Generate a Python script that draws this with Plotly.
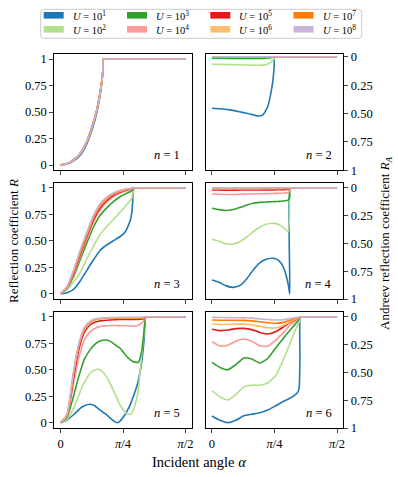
import numpy as np
import plotly.graph_objects as go

W, H = 398, 477
HP = np.pi / 2

u_labels = ["10<sup>1</sup>", "10<sup>2</sup>", "10<sup>3</sup>", "10<sup>4</sup>",
            "10<sup>5</sup>", "10<sup>6</sup>", "10<sup>7</sup>", "10<sup>8</sup>"]
colors = ["#1f78b4", "#b2df8a", "#33a02c", "#fb9a99",
          "#e31a1c", "#fdbf6f", "#ff7f00", "#cab2d6"]

# n = 1 : reflection coefficient R
alpha_n1 = [0, 0.08, 0.16, 0.25, 0.33, 0.40, 0.45, 0.49, 0.515, 0.53, 0.54, 0.57, HP]
n1_u1 = [0, 0.009, 0.038, 0.095, 0.20, 0.345, 0.475, 0.625, 0.75, 0.86, 1, 1, 1]
n1_rest = [0, 0.012, 0.045, 0.11, 0.22, 0.37, 0.50, 0.65, 0.77, 0.87, 1, 1, 1]

# n = 2 : Andreev reflection coefficient R_A
alpha_n2 = [0, 0.1, 0.226, 0.33, 0.435, 0.52, 0.58, 0.64, 0.70, 0.74, 0.765, 0.78, 0.787, 0.82, HP]
n2_u1 = [0.454, 0.458, 0.468, 0.482, 0.498, 0.512, 0.522, 0.512, 0.44, 0.32, 0.21, 0.10, 0.0, 0.0, 0.0]
n2_u2 = [0.066, 0.067, 0.069, 0.071, 0.073, 0.075, 0.075, 0.074, 0.064, 0.048, 0.032, 0.016, 0.0, 0.0, 0.0]
n2_u3 = [0.013, 0.013, 0.014, 0.014, 0.015, 0.015, 0.015, 0.014, 0.011, 0.008, 0.005, 0.002, 0.0, 0.0, 0.0]
n2_u4 = [0.004, 0.004, 0.004, 0.004, 0.004, 0.004, 0.004, 0.004, 0.003, 0.002, 0.001, 0.0, 0.0, 0.0, 0.0]
n2_u5 = [0.002, 0.002, 0.002, 0.002, 0.002, 0.002, 0.002, 0.002, 0.001, 0.001, 0.0, 0.0, 0.0, 0.0, 0.0]
n2_u6 = [0.001, 0.001, 0.001, 0.001, 0.001, 0.001, 0.001, 0.001, 0.0, 0.0, 0.0, 0.0, 0.0, 0.0, 0.0]
n2_u7 = [0.0, 0.0, 0.0, 0.0, 0.0, 0.0, 0.0, 0.0, 0.0, 0.0, 0.0, 0.0, 0.0, 0.0, 0.0]
n2_u8 = [0.0, 0.0, 0.0, 0.0, 0.0, 0.0, 0.0, 0.0, 0.0, 0.0, 0.0, 0.0, 0.0, 0.0, 0.0]

# n = 3 : R
alpha_n3 = [0, 0.08, 0.163, 0.247, 0.331, 0.415, 0.498, 0.58, 0.665, 0.75, 0.81, 0.853, 0.88, 0.90, 0.925, 0.96, HP]
n3_u1 = [0, 0.01, 0.04, 0.12, 0.22, 0.32, 0.41, 0.46, 0.50, 0.54, 0.58, 0.645, 0.70, 0.79, 1.0, 1.0, 1.0]
n3_u2 = [0, 0.035, 0.11, 0.20, 0.33, 0.45, 0.56, 0.635, 0.70, 0.77, 0.82, 0.86, 0.885, 0.91, 1.0, 1.0, 1.0]
n3_u3 = [0, 0.05, 0.16, 0.32, 0.48, 0.63, 0.74, 0.81, 0.87, 0.915, 0.94, 0.955, 0.965, 0.975, 1.0, 1.0, 1.0]
n3_u4 = [0, 0.055, 0.18, 0.35, 0.52, 0.68, 0.79, 0.865, 0.915, 0.95, 0.968, 0.978, 0.984, 0.99, 1.0, 1.0, 1.0]
n3_u5 = [0, 0.058, 0.19, 0.37, 0.54, 0.70, 0.81, 0.88, 0.93, 0.96, 0.975, 0.985, 0.99, 0.993, 1.0, 1.0, 1.0]
n3_u6 = [0, 0.06, 0.205, 0.39, 0.56, 0.72, 0.83, 0.895, 0.94, 0.968, 0.98, 0.988, 0.992, 0.995, 1.0, 1.0, 1.0]
n3_u7 = [0, 0.062, 0.21, 0.40, 0.57, 0.73, 0.84, 0.905, 0.945, 0.972, 0.984, 0.99, 0.994, 0.996, 1.0, 1.0, 1.0]
n3_u8 = [0, 0.063, 0.22, 0.41, 0.58, 0.74, 0.85, 0.913, 0.95, 0.976, 0.987, 0.992, 0.995, 0.997, 1.0, 1.0, 1.0]

# n = 4 : R_A
alpha_n4 = [0, 0.09, 0.18, 0.267, 0.36, 0.44, 0.518, 0.6, 0.68, 0.75, 0.79, 0.84, 0.894, 0.936, 0.96, 0.977, 0.979, 1.01, HP]
n4_u1 = [0.829, 0.85, 0.882, 0.895, 0.875, 0.815, 0.739, 0.675, 0.643, 0.634, 0.635, 0.655, 0.71, 0.80, 0.88, 0.955, 0.0, 0.0, 0.0]
n4_u2 = [0.463, 0.48, 0.503, 0.505, 0.48, 0.44, 0.395, 0.355, 0.328, 0.319, 0.32, 0.33, 0.355, 0.385, 0.395, 0.15, 0.0, 0.0, 0.0]
n4_u3 = [0.184, 0.196, 0.204, 0.195, 0.175, 0.155, 0.139, 0.131, 0.127, 0.125, 0.124, 0.122, 0.118, 0.114, 0.11, 0.07, 0.0, 0.0, 0.0]
n4_u4 = [0.056, 0.058, 0.06, 0.06, 0.058, 0.056, 0.054, 0.053, 0.052, 0.051, 0.05, 0.049, 0.047, 0.045, 0.04, 0.02, 0.0, 0.0, 0.0]
n4_u5 = [0.02, 0.02, 0.021, 0.021, 0.02, 0.02, 0.019, 0.019, 0.018, 0.018, 0.018, 0.017, 0.016, 0.015, 0.013, 0.007, 0.0, 0.0, 0.0]
n4_u6 = [0.008, 0.008, 0.008, 0.008, 0.008, 0.008, 0.007, 0.007, 0.007, 0.007, 0.007, 0.007, 0.006, 0.006, 0.005, 0.003, 0.0, 0.0, 0.0]
n4_u7 = [0.004, 0.004, 0.004, 0.004, 0.004, 0.004, 0.004, 0.004, 0.003, 0.003, 0.003, 0.003, 0.003, 0.003, 0.002, 0.001, 0.0, 0.0, 0.0]
n4_u8 = [0.002, 0.002, 0.002, 0.002, 0.002, 0.002, 0.002, 0.002, 0.002, 0.002, 0.002, 0.001, 0.001, 0.001, 0.001, 0.0, 0.0, 0.0, 0.0]

# n = 5 : R
alpha_n5 = [0, 0.08, 0.163, 0.205, 0.247, 0.30, 0.373, 0.43, 0.477, 0.53, 0.582, 0.623, 0.68, 0.715,
            0.749, 0.80, 0.833, 0.883, 0.916, 0.958, 0.979, 1.021, 1.05, 1.071, 1.10, HP]
n5_u1 = [0, 0.025, 0.075, 0.104, 0.135, 0.16, 0.174, 0.16, 0.13, 0.10, 0.073, 0.045, 0.01, 0.0,
         0.015, 0.065, 0.104, 0.18, 0.25, 0.34, 0.40, 0.576, 0.78, 1.0, 1.0, 1.0]
n5_u2 = [0, 0.03, 0.136, 0.21, 0.294, 0.38, 0.467, 0.497, 0.504, 0.48, 0.43, 0.372, 0.28, 0.22,
         0.167, 0.11, 0.085, 0.079, 0.12, 0.23, 0.32, 0.64, 0.85, 1.0, 1.0, 1.0]
n5_u3 = [0, 0.05, 0.25, 0.37, 0.48, 0.60, 0.69, 0.74, 0.765, 0.778, 0.781, 0.77, 0.74, 0.72,
         0.703, 0.655, 0.625, 0.59, 0.576, 0.57, 0.57, 0.68, 0.86, 1.0, 1.0, 1.0]
n5_u4 = [0, 0.06, 0.37, 0.53, 0.66, 0.78, 0.86, 0.89, 0.905, 0.912, 0.915, 0.917, 0.918, 0.917,
         0.916, 0.915, 0.915, 0.913, 0.912, 0.915, 0.92, 0.94, 0.97, 1.0, 1.0, 1.0]
n5_u5 = [0, 0.065, 0.42, 0.60, 0.74, 0.855, 0.925, 0.948, 0.958, 0.964, 0.968, 0.971, 0.973, 0.974,
         0.975, 0.975, 0.975, 0.975, 0.975, 0.975, 0.976, 0.978, 0.985, 1.0, 1.0, 1.0]
n5_u6 = [0, 0.07, 0.46, 0.64, 0.775, 0.88, 0.945, 0.968, 0.977, 0.981, 0.984, 0.985, 0.986, 0.987,
         0.988, 0.988, 0.988, 0.988, 0.988, 0.988, 0.988, 0.99, 0.993, 1.0, 1.0, 1.0]
n5_u7 = [0, 0.072, 0.47, 0.65, 0.785, 0.89, 0.952, 0.974, 0.982, 0.986, 0.988, 0.989, 0.99, 0.99,
         0.99, 0.99, 0.99, 0.99, 0.99, 0.99, 0.99, 0.992, 0.995, 1.0, 1.0, 1.0]
n5_u8 = [0, 0.075, 0.48, 0.66, 0.795, 0.90, 0.958, 0.978, 0.985, 0.989, 0.991, 0.992, 0.993, 0.994,
         0.995, 0.995, 0.995, 0.995, 0.995, 0.995, 0.995, 0.996, 0.997, 1.0, 1.0, 1.0]

# n = 6 : R_A
alpha_n6 = [0, 0.1, 0.2, 0.3, 0.4, 0.5, 0.6, 0.7, 0.8, 0.9, 0.98, 1.04, 1.08, 1.095, 1.105, 1.11, 1.14, HP]
n6_u1 = [0.892, 0.93, 0.952, 0.93, 0.89, 0.876, 0.862, 0.838, 0.8, 0.76, 0.733, 0.705, 0.675, 0.64, 0.35, 0.0, 0.0, 0.0]
n6_u2 = [0.667, 0.72, 0.748, 0.70, 0.63, 0.615, 0.615, 0.595, 0.53, 0.38, 0.24, 0.13, 0.07, 0.045, 0.025, 0.0, 0.0, 0.0]
n6_u3 = [0.409, 0.455, 0.475, 0.43, 0.37, 0.38, 0.415, 0.375, 0.28, 0.19, 0.12, 0.07, 0.035, 0.02, 0.01, 0.0, 0.0, 0.0]
n6_u4 = [0.224, 0.262, 0.255, 0.22, 0.20, 0.22, 0.26, 0.265, 0.21, 0.14, 0.075, 0.04, 0.02, 0.012, 0.006, 0.0, 0.0, 0.0]
n6_u5 = [0.112, 0.124, 0.118, 0.106, 0.104, 0.115, 0.14, 0.155, 0.135, 0.09, 0.05, 0.028, 0.014, 0.008, 0.004, 0.0, 0.0, 0.0]
n6_u6 = [0.065, 0.068, 0.068, 0.066, 0.066, 0.072, 0.085, 0.098, 0.10, 0.075, 0.045, 0.025, 0.012, 0.007, 0.003, 0.0, 0.0, 0.0]
n6_u7 = [0.029, 0.031, 0.031, 0.031, 0.032, 0.036, 0.044, 0.052, 0.058, 0.05, 0.03, 0.016, 0.008, 0.004, 0.002, 0.0, 0.0, 0.0]
n6_u8 = [0.005, 0.006, 0.007, 0.008, 0.009, 0.012, 0.018, 0.024, 0.029, 0.026, 0.016, 0.009, 0.004, 0.002, 0.001, 0.0, 0.0, 0.0]

panels = [
    (1, alpha_n1, [n1_u1] + [n1_rest] * 7),
    (2, alpha_n2, [n2_u1, n2_u2, n2_u3, n2_u4, n2_u5, n2_u6, n2_u7, n2_u8]),
    (3, alpha_n3, [n3_u1, n3_u2, n3_u3, n3_u4, n3_u5, n3_u6, n3_u7, n3_u8]),
    (4, alpha_n4, [n4_u1, n4_u2, n4_u3, n4_u4, n4_u5, n4_u6, n4_u7, n4_u8]),
    (5, alpha_n5, [n5_u1, n5_u2, n5_u3, n5_u4, n5_u5, n5_u6, n5_u7, n5_u8]),
    (6, alpha_n6, [n6_u1, n6_u2, n6_u3, n6_u4, n6_u5, n6_u6, n6_u7, n6_u8]),
]

# panel positions in pixels
col_x = [(54.3, 191.7), (205.7, 343.3)]
row_y = [(53.8, 170.3), (182.5, 299.0), (311.5, 428.0)]
ra_top = [-0.026, -0.048, -0.048]

FONT = "Liberation Serif"

def px(x):
    return x / W

def py(y):
    return 1 - y / H

fig = go.Figure()
layout = {}
for n, alpha, curves in panels:
    r, c = (n - 1) // 2, (n - 1) % 2
    sx = "" if n == 1 else str(n)
    for k, vals in enumerate(curves):
        fig.add_trace(go.Scatter(
            x=alpha, y=vals, mode="lines", xaxis="x" + sx, yaxis="y" + sx,
            line=dict(color=colors[k], width=1.6, shape="spline", smoothing=0.5),
            showlegend=False, hoverinfo="skip"))
    layout["xaxis" + sx] = dict(
        domain=[px(col_x[c][0]), px(col_x[c][1])], anchor="y" + sx, automargin=False,
        range=[-0.0785, 1.6493], tickvals=[0, np.pi / 4, np.pi / 2],
        ticktext=["0", "<i>π</i>/4", "<i>π</i>/2"], showticklabels=(r == 2),
        ticks="outside", ticklen=4, tickwidth=1, showline=True, mirror=True,
        linecolor="black", linewidth=1, showgrid=False, zeroline=False,
        tickfont=dict(size=12.5))
    ydom = [py(row_y[r][1]), py(row_y[r][0])]
    if c == 0:
        layout["yaxis" + sx] = dict(
            domain=ydom, anchor="x" + sx, range=[-0.05, 1.05], automargin=False,
            tickvals=[0, 0.25, 0.5, 0.75, 1], ticktext=["0", "0.25", "0.50", "0.75", "1"],
            ticks="outside", ticklen=4, tickwidth=1, showline=True, mirror=True,
            linecolor="black", linewidth=1, showgrid=False, zeroline=False,
            tickfont=dict(size=12.5))
    else:
        layout["yaxis" + sx] = dict(
            domain=ydom, anchor="x" + sx, side="right", range=[1, ra_top[r]], automargin=False,
            tickvals=[0, 0.25, 0.5, 0.75, 1], ticktext=["0", "0.25", "0.50", "0.75", "1"],
            ticks="outside", ticklen=4, tickwidth=1, showline=True, mirror=True,
            linecolor="black", linewidth=1, showgrid=False, zeroline=False,
            tickfont=dict(size=12.5))
    fig.add_annotation(text="<i>n</i> = %d" % n, xref="x%s domain" % sx, yref="y%s domain" % sx,
                       x=0.93, y=0.05, xanchor="right", yanchor="bottom", showarrow=False,
                       font=dict(size=12.5, family=FONT, color="black"))

fig.update_layout(**layout)

# axis titles
fig.add_annotation(text="Reflection coefficient <i>R</i>", x=px(13), y=py(241), xref="paper", yref="paper",
                   xanchor="center", yanchor="middle", textangle=-90, showarrow=False,
                   font=dict(size=13, family=FONT, color="black"))
fig.add_annotation(text="Andreev reflection coefficient <i>R</i><sub><i>A</i></sub>", x=px(385), y=py(243),
                   xref="paper", yref="paper", xanchor="center", yanchor="middle", textangle=-90,
                   showarrow=False, font=dict(size=13, family=FONT, color="black"))
fig.add_annotation(text="Incident angle <i>α</i>", x=px(198.8), y=py(461.5), xref="paper", yref="paper",
                   xanchor="center", yanchor="middle", showarrow=False,
                   font=dict(size=14.5, family=FONT, color="black"))

# legend box (rounded corners)
bx0, bx1, by0, by1, rr = 40.7, 361.7, 9.3, 38.3, 3
box_path = (f"M {px(bx0 + rr)},{py(by0)} L {px(bx1 - rr)},{py(by0)} Q {px(bx1)},{py(by0)} {px(bx1)},{py(by0 + rr)} "
            f"L {px(bx1)},{py(by1 - rr)} Q {px(bx1)},{py(by1)} {px(bx1 - rr)},{py(by1)} "
            f"L {px(bx0 + rr)},{py(by1)} Q {px(bx0)},{py(by1)} {px(bx0)},{py(by1 - rr)} "
            f"L {px(bx0)},{py(by0 + rr)} Q {px(bx0)},{py(by0)} {px(bx0 + rr)},{py(by0)} Z")
shapes = [dict(type="path", path=box_path, xref="paper", yref="paper",
               line=dict(color="#cccccc", width=1), fillcolor="white")]
leg_cols = [43.7, 127.0, 210.3, 293.5]
leg_rows = [15.3, 29.3]
for k in range(8):
    cx = leg_cols[k // 2]
    cy = leg_rows[k % 2]
    shapes.append(dict(type="rect", xref="paper", yref="paper", x0=px(cx), x1=px(cx + 20),
                       y0=py(cy + 3.3), y1=py(cy - 3.3), line=dict(width=0), fillcolor=colors[k]))
    fig.add_annotation(text="<i>U</i> = " + u_labels[k], x=px(cx + 27), y=py(cy), xref="paper", yref="paper",
                       xanchor="left", yanchor="middle", showarrow=False,
                       font=dict(size=10.5, family=FONT, color="black"))

fig.update_layout(width=W, height=H, margin=dict(l=0, r=0, t=0, b=0, autoexpand=False), shapes=shapes,
                  paper_bgcolor="white", plot_bgcolor="white",
                  font=dict(family=FONT, size=12, color="black"))

fig.write_html("out.html", config={"displayModeBar": False},
               post_script="document.body.style.margin='0px';")
